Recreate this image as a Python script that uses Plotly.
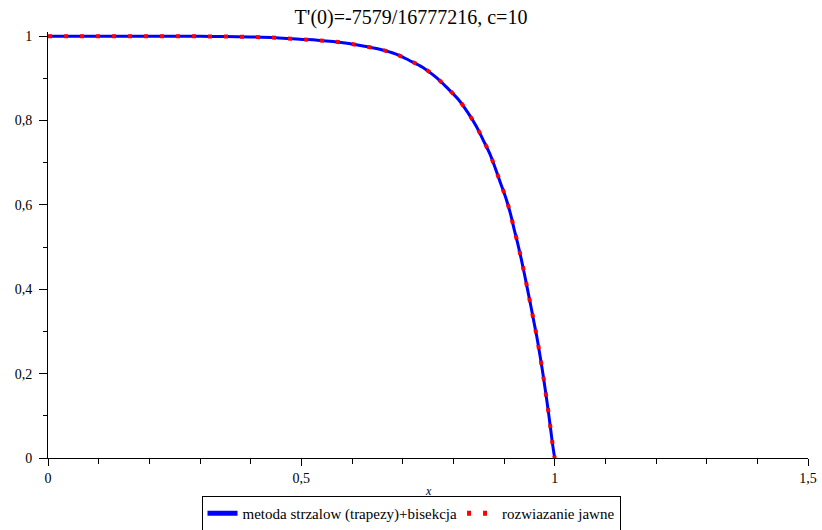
import plotly.graph_objects as go

# Values
x_vals = [0.0, 0.05, 0.1, 0.15, 0.2, 0.25, 0.3, 0.35, 0.4, 0.45, 0.497, 0.532,
          0.5625, 0.594, 0.625, 0.6546, 0.6856, 0.7125, 0.740, 0.765, 0.7875,
          0.810, 0.8277, 0.8447, 0.858, 0.8717, 0.883, 0.8934, 0.9035, 0.9126,
          0.9197, 0.927, 0.934, 0.9405, 0.9467, 0.9527, 0.9586, 0.9645, 0.9698,
          0.9748, 0.9795, 0.9840, 0.9882, 0.9922, 0.9962, 1.0]
y_shooting = [1.0, 1.0, 1.0, 1.0, 1.0, 1.0, 0.9997, 0.9992, 0.9982, 0.9965,
              0.993, 0.9905, 0.9874, 0.9826, 0.976, 0.969, 0.958, 0.943, 0.926,
              0.9035, 0.878, 0.850, 0.8206, 0.788, 0.756, 0.722, 0.6865, 0.651,
              0.617, 0.580, 0.544, 0.509, 0.472, 0.435, 0.398, 0.362, 0.3254,
              0.289, 0.252, 0.215, 0.178, 0.1405, 0.104, 0.067, 0.030, 0.0]
y_explicit = list(y_shooting)

title_text = "T'(0)=-7579/16777216, c=10"
name_shoot = "metoda strzalow (trapezy)+bisekcja"
name_explicit = "rozwiazanie jawne"

serif = "Liberation Serif"

fig = go.Figure()
fig.add_trace(go.Scatter(x=x_vals, y=y_shooting, mode="lines", name=name_shoot,
                         line=dict(color="#0000ff", width=3, shape="spline", smoothing=1.0)))
fig.add_trace(go.Scatter(x=x_vals, y=y_explicit, mode="lines", name=name_explicit,
                         line=dict(color="#ff0000", width=4, dash="4px,12px",
                                   shape="spline", smoothing=1.0)))

fig.update_layout(
    width=822, height=530,
    paper_bgcolor="white", plot_bgcolor="white",
    margin=dict(l=48, r=14, t=32, b=72, autoexpand=False),
    separators=", ",
    font=dict(family=serif, size=14, color="black"),
    title=dict(text=title_text, x=0.5, xref="container", xanchor="center",
               y=1 - 17 / 530, yref="container", yanchor="middle",
               font=dict(family=serif, size=20, color="black")),
    showlegend=True,
    legend=dict(orientation="h", xref="container", yref="container",
                x=0.5, xanchor="center", y=1 - 496 / 530, yanchor="top",
                bordercolor="black", borderwidth=1, bgcolor="white",
                font=dict(family=serif, size=15, color="black"),
                itemwidth=30, tracegroupgap=0, itemsizing="constant"),
    xaxis=dict(range=[0, 1.5], showgrid=False, zeroline=False, automargin=False,
               showline=True, linecolor="black", linewidth=1,
               ticks="outside", ticklen=7, tickwidth=1, tickcolor="black",
               dtick=0.5, tick0=0,
               minor=dict(dtick=0.1, ticklen=5, ticks="outside", tickcolor="black", showgrid=False),
               tickfont=dict(family=serif, size=14)),
    yaxis=dict(range=[0, 1.01], showgrid=False, zeroline=False, automargin=False,
               showline=True, linecolor="black", linewidth=1,
               ticks="outside", ticklen=8, tickwidth=1, tickcolor="black",
               dtick=0.2, tick0=0, ticklabelstandoff=4,
               minor=dict(dtick=0.1, ticklen=4, ticks="outside", tickcolor="black", showgrid=False),
               tickfont=dict(family=serif, size=14)),
    annotations=[dict(text="<i>x</i>", xref="paper", yref="paper", x=0.5, y=0,
                      yanchor="middle", yshift=-33, showarrow=False,
                      font=dict(family=serif, size=12, color="black"))],
)

fig.write_html("out.html", config={"displayModeBar": False},
               post_script="document.body.style.margin='0';")
